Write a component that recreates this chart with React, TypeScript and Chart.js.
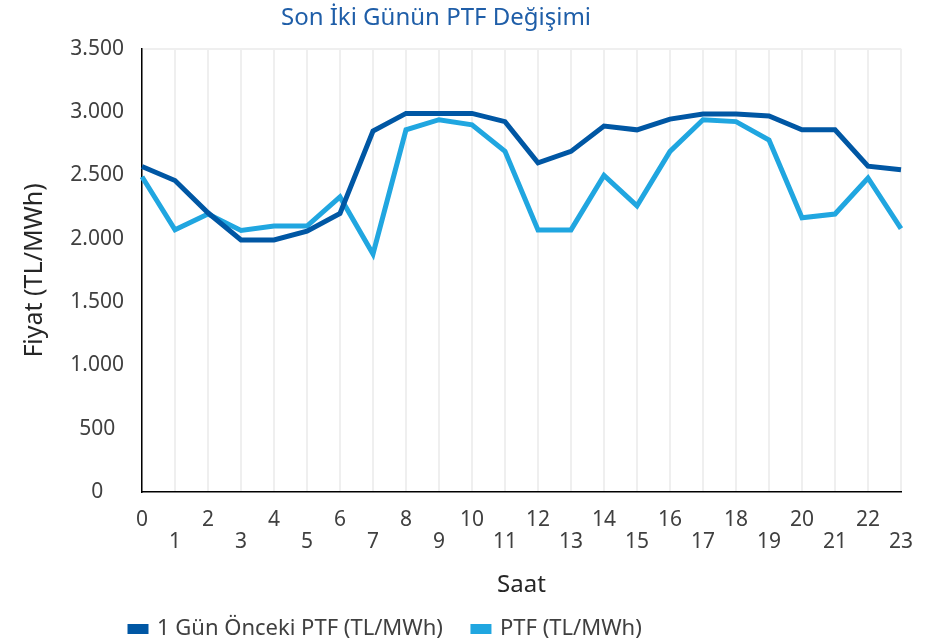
import React, { useEffect, useRef } from "react";
import { Chart, registerables } from "chart.js";

Chart.register(...registerables);

const hours: string[] = [
  "0", "1", "2", "3", "4", "5", "6", "7", "8", "9", "10", "11",
  "12", "13", "14", "15", "16", "17", "18", "19", "20", "21", "22", "23",
];

const previousDayPTF: number[] = [
  2570, 2460, 2205, 1990, 1990, 2060, 2200, 2850, 2990, 2990, 2990, 2925,
  2600, 2690, 2890, 2860, 2945, 2985, 2985, 2970, 2860, 2860, 2573, 2545,
];

const currentPTF: number[] = [
  2490, 2070, 2195, 2065, 2100, 2100, 2330, 1880, 2860, 2940, 2900, 2690,
  2070, 2070, 2500, 2260, 2690, 2940, 2925, 2780, 2165, 2195, 2480, 2080,
];

const seriesLabels: string[] = ["1 Gün Önceki PTF (TL/MWh)", "PTF (TL/MWh)"];
const titleText = "Son İki Günün PTF Değişimi";
const xTitle = "Saat";
const yTitle = "Fiyat (TL/MWh)";

const FONT = "'Noto Sans', 'Open Sans', sans-serif";

function fmt(v: number): string {
  return String(v).replace(/\B(?=(\d{3})+(?!\d))/g, ".");
}

const placeBlocks = {
  id: "placeBlocks",
  afterLayout(chart: any) {
    if (chart.titleBlock) {
      chart.titleBlock.left = 0;
      chart.titleBlock.right = 872;
    }
    if (chart.legend) {
      const w = chart.legend.right - chart.legend.left;
      chart.legend.left = 100;
      chart.legend.right = 100 + w;
    }
  },
};

export default function App() {
  const ref = useRef<HTMLCanvasElement | null>(null);

  useEffect(() => {
    document.body.style.margin = "0";
    if (!ref.current) return;
    const chart = new Chart(ref.current, {
      type: "line",
      data: {
        labels: hours,
        datasets: [
          {
            label: seriesLabels[0],
            data: previousDayPTF,
            borderColor: "#0057A4",
            backgroundColor: "#0057A4",
            borderWidth: 5,
            pointRadius: 0,
            tension: 0,
          },
          {
            label: seriesLabels[1],
            data: currentPTF,
            borderColor: "#20A6E0",
            backgroundColor: "#20A6E0",
            borderWidth: 5,
            pointRadius: 0,
            tension: 0,
          },
        ],
      },
      plugins: [placeBlocks],
      options: {
        animation: false,
        responsive: true,
        maintainAspectRatio: false,
        layout: { padding: { left: 0, right: 40, top: 0, bottom: -6 } },
        plugins: {
          title: {
            display: true,
            text: titleText,
            color: "#1F5EA8",
            font: { family: FONT, size: 24, weight: "normal" },
            padding: { top: 4, bottom: 16 },
          },
          legend: {
            position: "bottom",
            align: "start",
            labels: {
              color: "#404040",
              font: { family: FONT, size: 22 },
              boxWidth: 16,
              boxHeight: 5,
              padding: 30,
            },
          },
          tooltip: { enabled: false },
        },
        scales: {
          x: {
            type: "category",
            offset: false,
            afterFit: (s: any) => {
              s.height = 96;
            },
            grid: {
              display: true,
              color: "#EFEFEF",
              lineWidth: 2,
              drawTicks: false,
            },
            border: { display: true, color: "#000000", width: 1.5 },
            ticks: {
              autoSkip: false,
              maxRotation: 0,
              minRotation: 0,
              padding: 17,
              color: "#404040",
              font: { family: FONT, size: 21, lineHeight: 1.05 },
              callback: (_v: any, idx: number) =>
                idx % 2 ? ["", hours[idx]] : hours[idx],
            },
            title: {
              display: true,
              text: xTitle,
              color: "#262626",
              font: { family: FONT, size: 24 },
              padding: { top: 18, bottom: -12 },
            },
          },
          y: {
            min: 0,
            max: 3500,
            afterFit: (s: any) => {
              s.width = 142;
            },
            grid: {
              display: true,
              drawTicks: false,
              color: (c: any) =>
                c.tick && c.tick.value === 3500 ? "#EFEFEF" : "rgba(0,0,0,0)",
              lineWidth: 2,
            },
            border: { display: true, color: "#000000", width: 1.5 },
            ticks: {
              stepSize: 500,
              padding: 18,
              crossAlign: "center",
              color: "#404040",
              font: { family: FONT, size: 21 },
              callback: (v: any) => fmt(Number(v)),
            },
            title: {
              display: true,
              text: yTitle,
              color: "#262626",
              font: { family: FONT, size: 25 },
              padding: { top: 20, bottom: 0 },
            },
          },
        },
      },
    } as any);
    return () => chart.destroy();
  }, []);

  return (
    <div style={{ width: 941, height: 644, position: "relative" }}>
      <canvas ref={ref} />
    </div>
  );
}
